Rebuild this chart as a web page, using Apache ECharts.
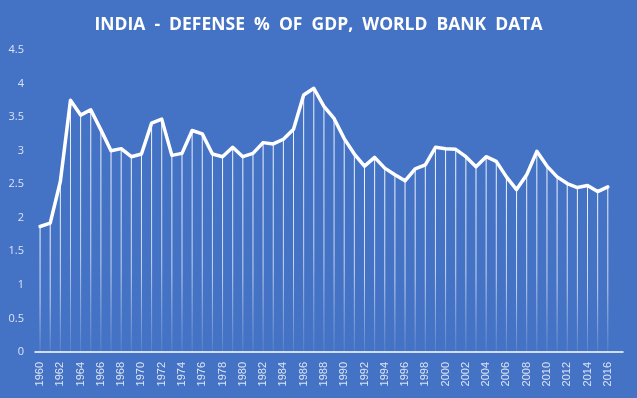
<!DOCTYPE html>
<html>
<head>
<meta charset="utf-8">
<script src="https://cdn.jsdelivr.net/npm/echarts@6/dist/echarts.min.js"></script>
<style>
  html, body { margin: 0; padding: 0; background: #4472c4; }
  #chart-container { width: 637px; height: 398px; }
</style>
</head>
<body>
<div id="chart-container"></div>
<script>
// years 1960..2017 (2017 has no value, it only holds the axis space)
var years = [];
for (var y = 1960; y <= 2017; y++) years.push(String(y));

var defensePct = [
    1.87, 1.92, 2.54, 3.75, 3.53, 3.61, 3.31, 3.00, 3.03, 2.91,
    2.95, 3.41, 3.47, 2.93, 2.96, 3.30, 3.25, 2.95, 2.91, 3.05,
    2.91, 2.96, 3.12, 3.10, 3.17, 3.32, 3.83, 3.93, 3.66, 3.48,
    3.18, 2.95, 2.77, 2.90, 2.74, 2.64, 2.55, 2.73, 2.79, 3.05,
    3.03, 3.02, 2.91, 2.76, 2.91, 2.84, 2.61, 2.42, 2.64, 2.99,
    2.77, 2.61, 2.51, 2.45, 2.48, 2.39, 2.46, null
];

var yTicks = { min: 0, max: 4.5, interval: 0.5 };

var dom = document.getElementById('chart-container');
var myChart = echarts.init(dom, null, { renderer: 'canvas' });

var option = {
    backgroundColor: '#4472c4',
    animation: false,
    title: {
        text: 'INDIA  -  DEFENSE  %  OF  GDP,  WORLD  BANK  DATA',
        left: 'center',
        top: 11,
        textStyle: {
            color: '#ffffff',
            fontFamily: 'Open Sans',
            fontWeight: 'bold',
            fontSize: 17.5
        }
    },
    grid: { left: 35, right: 14, top: 50, bottom: 46 },
    xAxis: {
        type: 'category',
        data: years,
        boundaryGap: true,
        axisLine: { lineStyle: { color: '#ffffff', width: 1.5 } },
        axisTick: { show: false },
        axisLabel: {
            color: '#dce4f4',
            fontFamily: 'Liberation Sans',
            fontSize: 11,
            rotate: 90,
            interval: 1,
            margin: 10
        }
    },
    yAxis: {
        type: 'value',
        min: yTicks.min,
        max: yTicks.max,
        interval: yTicks.interval,
        axisLine: { show: false },
        axisTick: { show: false },
        splitLine: { show: false },
        axisLabel: {
            color: '#dce4f4',
            fontFamily: 'Open Sans',
            fontSize: 11,
            margin: 11
        }
    },
    series: [
        {
            name: 'drop',
            type: 'bar',
            data: defensePct,
            barWidth: 1,
            barGap: '-100%',
            silent: true,
            itemStyle: {
                color: new echarts.graphic.LinearGradient(0, 0, 0, 1, [
                    { offset: 0, color: 'rgba(255,255,255,0.95)' },
                    { offset: 0.6, color: 'rgba(255,255,255,0.7)' },
                    { offset: 1, color: 'rgba(255,255,255,0.1)' }
                ])
            },
            z: 1
        },
        {
            name: 'Defense % of GDP',
            type: 'line',
            data: defensePct,
            symbol: 'none',
            lineStyle: { color: '#ffffff', width: 3.5, join: 'round', cap: 'round' },
            z: 3
        }
    ]
};

myChart.setOption(option);
</script>
</body>
</html>
